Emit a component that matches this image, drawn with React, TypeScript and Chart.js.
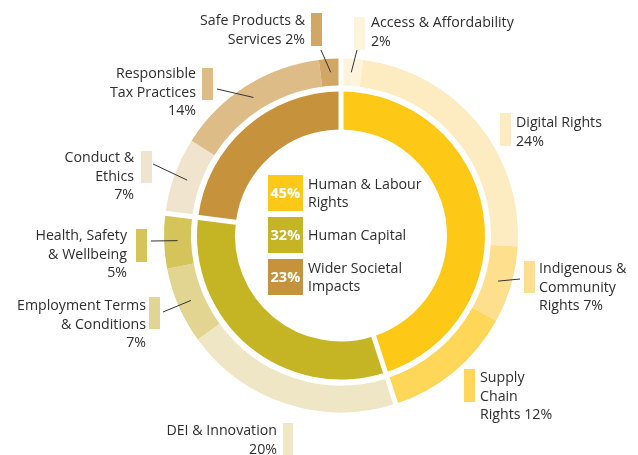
import React, { useEffect, useRef } from "react";
import { Chart, registerables } from "chart.js";

Chart.register(...registerables);

// ---- data ----
const groupLabels = ["Human & Labour\nRights", "Human Capital", "Wider Societal\nImpacts"];
const groupValues = [45, 32, 23];
const groupColors = ["#FDC916", "#C5B423", "#C6933C"];

const subLabels = [
  "Access & Affordability",
  "Digital Rights",
  "Indigenous &\nCommunity\nRights",
  "Supply\nChain\nRights",
  "DEI & Innovation",
  "Employment Terms\n& Conditions",
  "Health, Safety\n& Wellbeing",
  "Conduct &\nEthics",
  "Responsible\nTax Practices",
  "Safe Products &\nServices",
];
const subValues = [2, 24, 7, 12, 20, 7, 5, 7, 14, 2];
const subPctInline = [false, false, true, true, false, false, false, false, false, true];
const subColors = [
  "#FEF4DC", "#FDECC1", "#FEDF8D", "#FED658",
  "#EFE6C5", "#E1D591", "#D4C459",
  "#F1E4CF", "#DDBC88", "#D2A766",
];

// ---- annotation layout (positions only) ----
type Ann = { align: "left" | "right"; x: number; top: number; bar: [number, number, number, number]; end?: [number, number] };
const annLayout: Ann[] = [
  { align: "left", x: 371, top: 13, bar: [354, 17, 11, 33], end: [357, 50] },
  { align: "left", x: 516, top: 113, bar: [500, 113, 11, 33] },
  { align: "left", x: 539, top: 259, bar: [524, 261, 11, 32], end: [520, 279] },
  { align: "left", x: 480, top: 368, bar: [464, 369, 11, 33] },
  { align: "right", x: 277, top: 421, bar: [283, 423, 10, 34] },
  { align: "right", x: 146, top: 296, bar: [149, 297, 11, 32], end: [163, 312] },
  { align: "right", x: 127, top: 226, bar: [136, 229, 11, 33], end: [151, 241] },
  { align: "right", x: 134, top: 148, bar: [141, 151, 11, 32], end: [153, 164] },
  { align: "right", x: 196, top: 64, bar: [202, 68, 11, 32], end: [217, 89] },
  { align: "right", x: 305, top: 11, bar: [311, 13, 11, 33], end: [321, 50] },
];

const W = 638;
const H = 455;
const FONT = "'Open Sans', 'Noto Sans', sans-serif";
const TEXT = "#2e2e2e";
const FS = 14.2;

const overlayPlugin = {
  id: "overlay",
  afterDatasetsDraw(chart: any) {
    const ctx = chart.ctx;
    const inner = chart.getDatasetMeta(2).data;
    const outer = chart.getDatasetMeta(0).data;
    if (!inner.length) return;
    const cx = inner[0].x;
    const cy = inner[0].y;
    const rOut = outer[0].outerRadius + 2;
    // white separators at group boundaries
    ctx.save();
    ctx.strokeStyle = "#ffffff";
    ctx.lineWidth = 5;
    ctx.lineCap = "butt";
    inner.forEach((arc: any) => {
      const a = arc.startAngle;
      ctx.beginPath();
      ctx.moveTo(cx + Math.cos(a) * (arc.innerRadius - 2), cy + Math.sin(a) * (arc.innerRadius - 2));
      ctx.lineTo(cx + Math.cos(a) * rOut, cy + Math.sin(a) * rOut);
      ctx.stroke();
    });
    // leader lines
    ctx.strokeStyle = "#333333";
    ctx.lineWidth = 1;
    outer.forEach((arc: any, i: number) => {
      const end = annLayout[i].end;
      if (!end) return;
      const mid = (arc.startAngle + arc.endAngle) / 2;
      const r = (arc.innerRadius + arc.outerRadius) / 2;
      ctx.beginPath();
      ctx.moveTo(cx + Math.cos(mid) * r, cy + Math.sin(mid) * r);
      ctx.lineTo(end[0], end[1]);
      ctx.stroke();
    });
    ctx.restore();
  },
};

export default function App() {
  const ref = useRef<HTMLCanvasElement>(null);
  useEffect(() => {
    const R = 177;
    const cx = 341;
    const cy = 235.5;
    const chart = new Chart(ref.current!, {
      type: "doughnut",
      data: {
        labels: subLabels,
        datasets: [
          { data: subValues, backgroundColor: subColors, borderWidth: 0, weight: 27 } as any,
          { data: [1], backgroundColor: ["rgba(0,0,0,0)"], borderWidth: 0, weight: 6 } as any,
          { data: groupValues, backgroundColor: groupColors, borderWidth: 0, weight: 38 } as any,
        ],
      },
      options: {
        responsive: false,
        animation: false,
        cutout: 106,
        layout: {
          padding: { left: cx - R, right: W - (cx + R), top: cy - R, bottom: H - (cy + R) },
        },
        plugins: { legend: { display: false }, tooltip: { enabled: false } },
        events: [],
      },
      plugins: [overlayPlugin],
    });
    return () => chart.destroy();
  }, []);

  const lh = 18.5;
  return (
    <div style={{ position: "absolute", left: 0, top: 0, width: W, height: H, background: "#fff", fontFamily: FONT, color: TEXT }}>
      <canvas ref={ref} width={W} height={H} style={{ position: "absolute", left: 0, top: 0, width: W, height: H }} />
      {annLayout.map((a, i) => {
        const lines = subLabels[i].split("\n");
        const pct = `${subValues[i]}%`;
        if (subPctInline[i]) lines[lines.length - 1] += " " + pct;
        else lines.push(pct);
        const style: any = {
          position: "absolute",
          top: a.top,
          fontSize: FS,
          lineHeight: `${lh}px`,
          whiteSpace: "nowrap",
          textAlign: a.align,
        };
        if (a.align === "left") style.left = a.x;
        else style.right = W - a.x;
        return (
          <React.Fragment key={i}>
            <div style={{ position: "absolute", left: a.bar[0], top: a.bar[1], width: a.bar[2], height: a.bar[3], background: subColors[i] }} />
            <div style={style}>
              {lines.map((l, j) => (
                <div key={j}>{l}</div>
              ))}
            </div>
          </React.Fragment>
        );
      })}
      {groupLabels.map((g, i) => {
        const top = 175 + i * 42;
        const lines = g.split("\n");
        return (
          <React.Fragment key={"g" + i}>
            <div
              style={{
                position: "absolute", left: 268, top, width: 35, height: 36, background: groupColors[i],
                color: "#fff", fontWeight: 700, fontSize: 14.5, lineHeight: "36px", textAlign: "center",
                letterSpacing: 0.2,
              }}
            >
              {groupValues[i]}%
            </div>
            <div
              style={{
                position: "absolute", left: 308, top: top + 18 - (lines.length * lh) / 2,
                fontSize: FS, lineHeight: `${lh}px`, whiteSpace: "nowrap",
              }}
            >
              {lines.map((l, j) => (
                <div key={j}>{l}</div>
              ))}
            </div>
          </React.Fragment>
        );
      })}
    </div>
  );
}
